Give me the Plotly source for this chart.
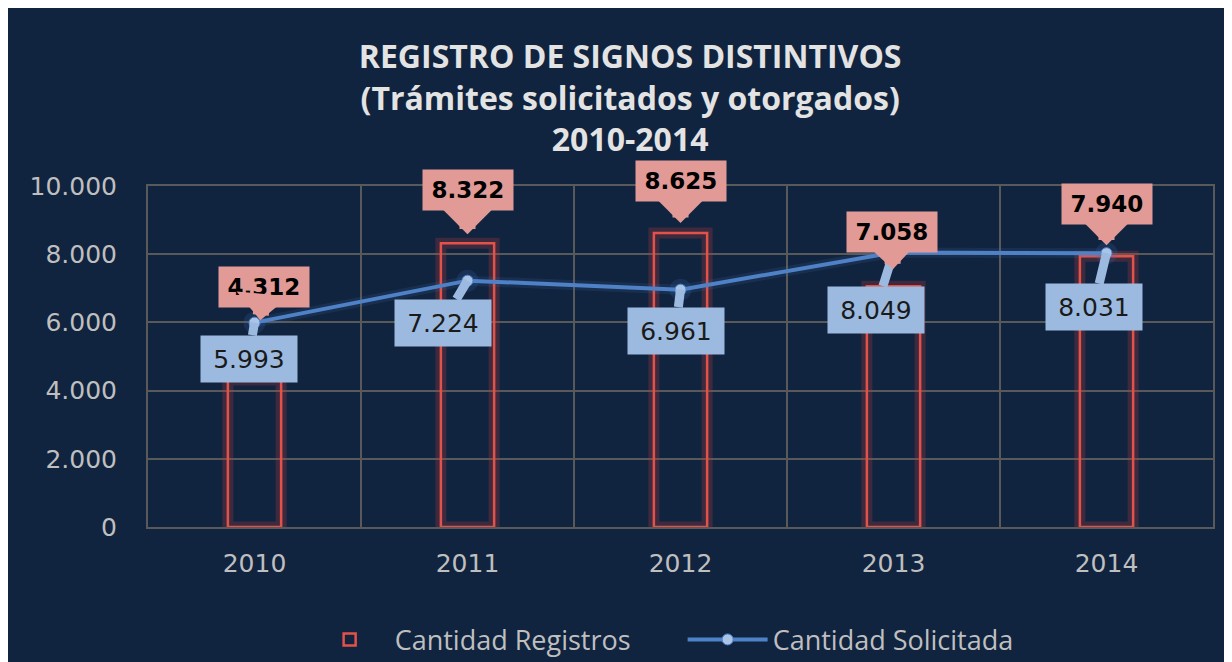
import plotly.graph_objects as go

years = [2010, 2011, 2012, 2013, 2014]
year_labels = ["2010", "2011", "2012", "2013", "2014"]
registros = [4312, 8322, 8625, 7058, 7940]
solicitada = [5993, 7224, 6961, 8049, 8031]

title_lines = ["REGISTRO DE SIGNOS DISTINTIVOS", "(Trámites solicitados y otorgados)", "2010-2014"]

NAVY = "rgb(17,36,63)"
GRID = "#595959"
TXT = "#bfbfbf"
RED = "rgb(226,82,72)"
BLUE = "rgb(79,129,199)"
RED_LBL = "rgb(226,154,150)"
BLUE_LBL = "rgb(156,186,224)"

# label offsets (pixels) – styling only
red_off = [(9, -93, 60), (0, -53, 9), (0, -52, 10), (-2, -54, 17), (0, -52, 11)]
blue_off = [(-6, 36), (-25, 42), (-5, 41), (-18, 57), (-13, 54)]


def fmt(v):
    return f"{v:,}".replace(",", ".")


boundaries = [y - 0.5 for y in years] + [years[-1] + 0.5]

fig = go.Figure()

# glow behind bars
fig.add_trace(go.Bar(x=years, y=registros, width=0.25,
                     marker=dict(color="rgba(0,0,0,0)", line=dict(color="rgba(200,60,60,0.25)", width=11)),
                     showlegend=False, hoverinfo="skip"))
fig.add_trace(go.Bar(x=years, y=registros, width=0.25, name="Cantidad Registros",
                     marker=dict(color="rgba(0,0,0,0)", line=dict(color=RED, width=2.5))))
# glow behind line
fig.add_trace(go.Scatter(x=years, y=solicitada, mode="lines+markers",
                         line=dict(color="rgba(79,129,199,0.12)", width=10),
                         marker=dict(size=22, color="rgba(60,110,190,0.18)"),
                         showlegend=False, hoverinfo="skip"))
fig.add_trace(go.Scatter(x=years, y=solicitada, mode="lines+markers", name="Cantidad Solicitada",
                         line=dict(color=BLUE, width=4),
                         marker=dict(size=11, color="rgb(170,196,232)", line=dict(color=BLUE, width=1))))

annotations = []
for i, (yr, v) in enumerate(zip(years, solicitada)):
    ax, ay = blue_off[i]
    annotations.append(dict(x=yr, y=v, xref="x", yref="y", text=fmt(v),
                            showarrow=True, ax=ax, ay=ay, standoff=0,
                            arrowhead=0, arrowwidth=9, arrowcolor=BLUE_LBL,
                            bgcolor=BLUE_LBL, width=90, height=40, borderpad=3,
                            font=dict(family="DejaVu Sans", size=25, color="#1a1a1a")))
for i, (yr, v) in enumerate(zip(years, registros)):
    ax, ay, so = red_off[i]
    annotations.append(dict(x=yr, y=v, xref="x", yref="y", text=f"<b>{fmt(v)}</b>",
                            showarrow=True, ax=ax, ay=ay, standoff=so,
                            arrowhead=1, arrowwidth=16, arrowsize=0.55, arrowcolor=RED_LBL,
                            bgcolor=RED_LBL, width=86, height=36, borderpad=2,
                            font=dict(family="DejaVu Sans", size=23, color="#000000")))

fig.update_layout(
    width=1232, height=662,
    margin=dict(l=140, r=27, t=178, b=143, autoexpand=False),
    paper_bgcolor=NAVY, plot_bgcolor=NAVY,
    barmode="overlay",
    separators=",.",
    title=dict(text="<br>".join(title_lines), x=0.505, xref="container", xanchor="center",
               y=1 - 60 / 662, yref="container", yanchor="middle",
               font=dict(family="Open Sans", size=32, color="#e3e3e3", weight="bold")),
    legend=dict(orientation="h", x=0.502, xanchor="center", y=-0.331, yanchor="middle",
                font=dict(family="Open Sans", size=27, color=TXT), bgcolor="rgba(0,0,0,0)",
                itemwidth=80, entrywidth=283, entrywidthmode="pixels"),
    xaxis=dict(range=[years[0] - 0.5, years[-1] + 0.5], tickvals=years, ticktext=year_labels,
               showgrid=False, zeroline=False,
               minor=dict(tickvals=boundaries, showgrid=True, gridcolor=GRID, gridwidth=2, ticks=""),
               ticks="outside", ticklen=13, tickcolor="rgba(0,0,0,0)",
               showline=True, linecolor=GRID, linewidth=2, mirror=True,
               tickfont=dict(family="DejaVu Sans", size=25, color=TXT)),
    yaxis=dict(range=[0, 10000], dtick=2000, tickformat=",d", showgrid=True, gridcolor=GRID, gridwidth=2,
               zeroline=False, ticks="outside", ticklen=24, tickcolor="rgba(0,0,0,0)",
               showline=True, linecolor=GRID, linewidth=2, mirror=True,
               tickfont=dict(family="DejaVu Sans", size=25, color=TXT)),
    annotations=annotations,
    showlegend=True,
)

fig.write_html("out.html")
